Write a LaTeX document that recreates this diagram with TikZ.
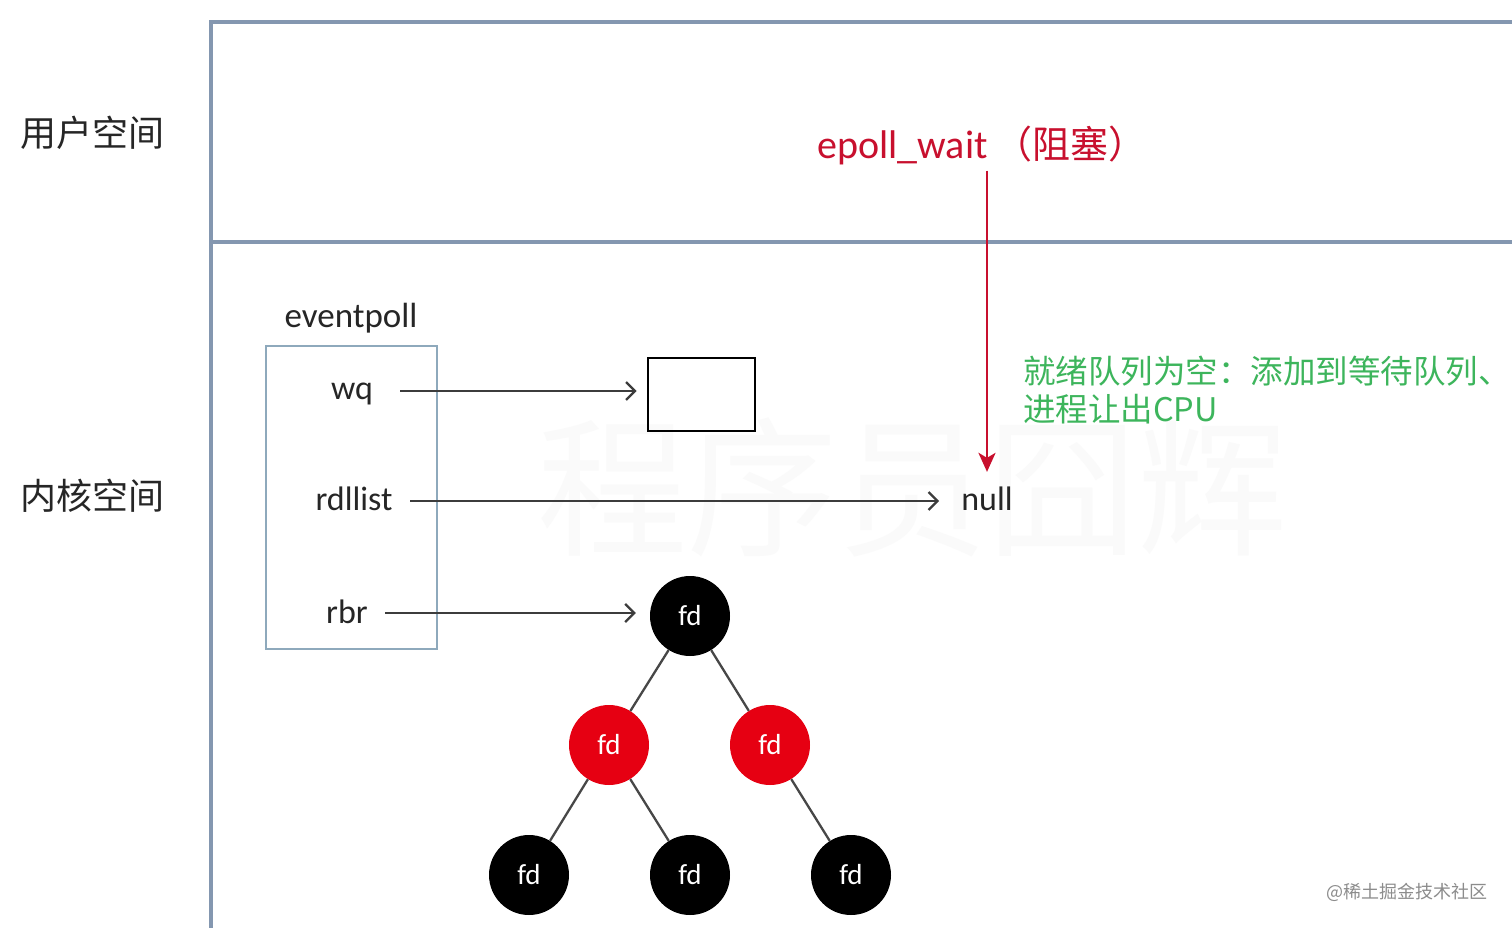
\documentclass[tikz,border=0pt]{standalone}
\usepackage{fontspec}
\setmainfont{Carlito}
\newfontfamily\cjk{Noto Sans CJK SC}
\usetikzlibrary{arrows.meta}
\definecolor{framec}{HTML}{8497B0}
\definecolor{boxc}{HTML}{8EA9BC}
\definecolor{redc}{HTML}{C8102E}
\definecolor{greenc}{HTML}{3DB55C}
\definecolor{fdred}{HTML}{E60012}
\definecolor{txt}{HTML}{262626}
\begin{document}
\begin{tikzpicture}[x=1pt,y=-1pt,
  lbl/.style={font=\cjk\fontsize{36}{40}\selectfont, text=txt, inner sep=0pt},
  field/.style={font=\fontsize{34}{36}\selectfont, text=txt, inner sep=0pt},
  arr/.style={draw=txt!90, line width=2.3pt, -{Straight Barb[length=9pt,width=18pt,line width=2.3pt]}},
  redarr/.style={draw=redc, line width=2.8pt, -{Stealth[length=19pt,width=17pt,inset=5pt]}},
  fdb/.style={circle, fill=black, minimum size=80pt, inner sep=0pt, text=white, font=\fontsize{29}{30}\selectfont},
  fdr/.style={fdb, fill=fdred},
  edge/.style={draw=txt!85, line width=2.3pt}
]
\useasboundingbox (0,0) rectangle (1512,928);
\fill[white] (0,0) rectangle (1512,928);
% faint watermark
\node[font=\cjk\fontsize{150}{150}\selectfont, text=black!2, inner sep=0pt] (wm) at (912,487) {程序员囧辉};
% frame
\draw[framec, line width=3.2pt] (211,928) -- (211,22) -- (1512,22);
\draw[framec, line width=3.2pt] (211,242) -- (1512,242);
% side labels
\node[lbl] (user) at (92,133) {用户空间};
\node[lbl] (kern) at (92,496) {内核空间};
% epoll_wait
\node[inner sep=0pt, text=redc, font=\fontsize{40}{44}\selectfont] (epoll) at (982,145) {epoll\_wait\,{\cjk\fontsize{38}{40}\selectfont （阻塞）}};
% eventpoll
\node[field, font=\fontsize{35}{38}\selectfont] (evp) at (351,318) {eventpoll};
\node[draw=boxc, line width=2pt, minimum width=171pt, minimum height=303pt, inner sep=0pt] (ep) at (351.5,497.5) {};
\node[field] (wq) at (352,394) {wq};
\node[field] (rdl) at (354,499) {rdllist};
\node[field] (rbr) at (347,612) {rbr};
\node[draw=black, line width=2.6pt, minimum width=107pt, minimum height=73pt, inner sep=0pt] (wbox) at (701.5,394.5) {};
\node[field] (null) at (987,499) {null};
% tree
\node[fdb] (r) at (690,616) {fd};
\node[fdr] (a) at (609,745) {fd};
\node[fdr] (b) at (770,745) {fd};
\node[fdb] (c) at (529,875) {fd};
\node[fdb] (d) at (690,875) {fd};
\node[fdb] (e) at (851,875) {fd};
\draw[edge] (r) -- (a);
\draw[edge] (r) -- (b);
\draw[edge] (a) -- (c);
\draw[edge] (a) -- (d);
\draw[edge] (b) -- (e);
% arrows
\draw[arr] (400,391) -- ([xshift=-10pt]wbox.west |- 0,391);
\draw[arr] (410,501) -- ([xshift=-22pt]null.west |- 0,501);
\draw[arr] (385,613) -- ([xshift=-14pt]r.west |- 0,613);
\draw[redarr] (epoll.south -| null.north) ++(0,6) -- ([yshift=15pt]null.north);
% green note
\node[anchor=north west, align=left, inner sep=0pt, text=greenc, font=\cjk\fontsize{32.5}{38}\selectfont] (note) at (1023,356) {就绪队列为空：添加到等待队列、\\进程让出CPU};
% corner watermark
\node[anchor=east, inner sep=0pt, text=black!45, font=\cjk\fontsize{18}{20}\selectfont] (wm2) at (1488,892) {@稀土掘金技术社区};
\end{tikzpicture}
\end{document}
